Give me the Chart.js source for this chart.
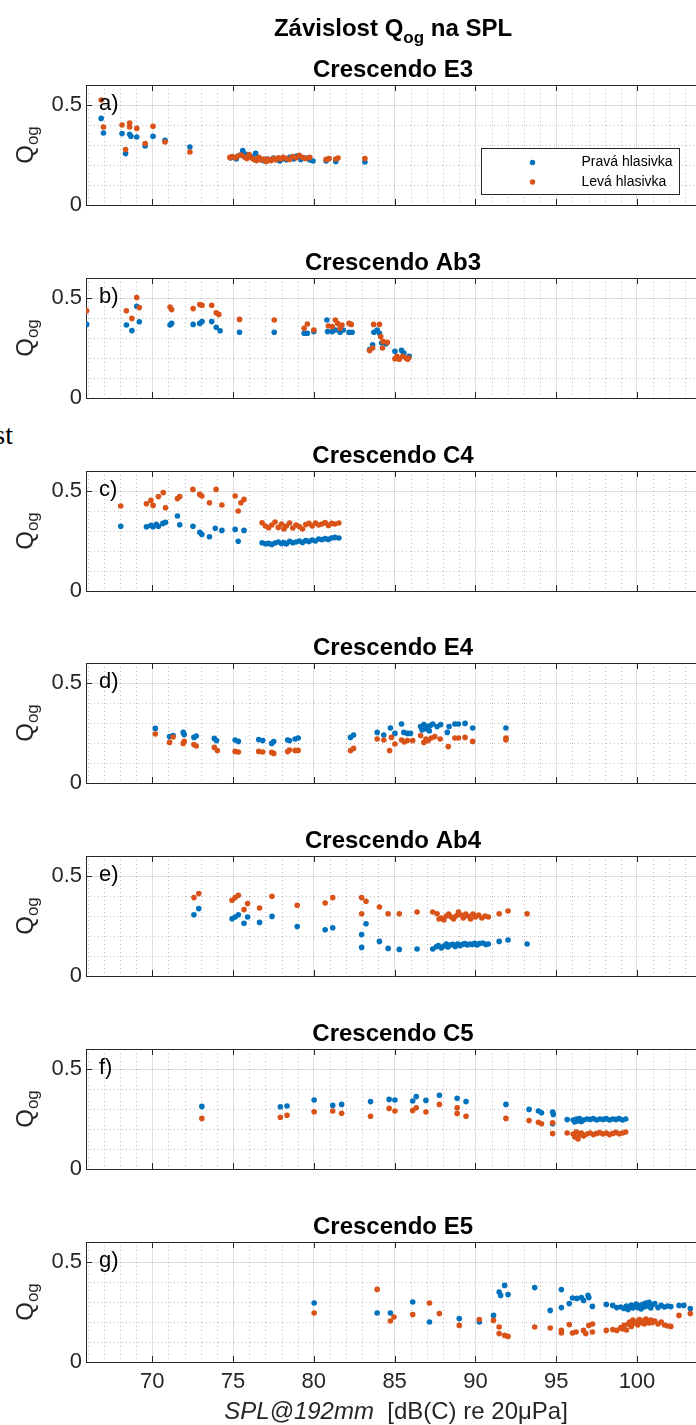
<!DOCTYPE html>
<html><head><meta charset="utf-8">
<script src="https://cdn.jsdelivr.net/npm/chart.js@4/dist/chart.umd.min.js"></script>
<style>
html,body{margin:0;padding:0;background:#fff;}
body{width:696px;height:1425px;overflow:hidden;position:relative;}
.panel{position:absolute;left:0;width:720px;}
canvas{display:block;}
#stray{position:absolute;right:683px;top:421px;font-family:"Liberation Serif","DejaVu Serif",serif;font-size:28px;color:#000;line-height:1;white-space:nowrap;}
</style>
</head><body>
<div id="stray">Závislost</div>
<script>
// ---------- text / ticks ----------
const mainTitle = ['Závislost Q', 'og', ' na SPL'];
const panelLabels = ['a)', 'b)', 'c)', 'd)', 'e)', 'f)', 'g)'];
const panelTitles = ['Crescendo E3', 'Crescendo Ab3', 'Crescendo C4', 'Crescendo E4', 'Crescendo Ab4', 'Crescendo C5', 'Crescendo E5'];
const seriesNames = ['Pravá hlasivka', 'Levá hlasivka'];
const yLabel = ['Q', 'og'];
const xLabel = ['SPL@192mm', '  [dB(C) re 20μPa]'];
const xTicks = [70, 75, 80, 85, 90, 95, 100];
const yTicks = [0, 0.5];

// ---------- a) Crescendo E3 ----------
const aPravaX = [66.84,66.98,68.13,68.35,68.60,68.68,69.04,69.56,70.05,70.79,72.33,
  74.85,75.0,75.2,75.45,75.6,75.75,76.0,76.2,76.4,76.55,76.7,76.9,77.1,77.3,77.5,77.7,77.9,78.1,78.3,78.5,78.75,78.95,79.2,79.5,79.75,79.95,80.76,81.36,83.16];
const aPravaQ = [0.433,0.36,0.357,0.257,0.354,0.344,0.34,0.295,0.344,0.324,0.29,
  0.235,0.24,0.23,0.25,0.272,0.255,0.245,0.24,0.258,0.235,0.228,0.222,0.23,0.225,0.235,0.228,0.22,0.232,0.226,0.238,0.23,0.245,0.228,0.235,0.225,0.22,0.22,0.218,0.215];
const aLevaX = [66.84,66.98,68.13,68.35,68.6,68.6,69.04,69.56,70.05,70.79,72.33,
  74.8,74.95,75.15,75.3,75.5,75.7,75.85,76.0,76.15,76.3,76.45,76.6,76.75,76.9,77.05,77.2,77.35,77.5,77.65,77.8,77.95,78.1,78.3,78.5,78.7,78.9,79.1,79.3,79.5,79.75,80.76,80.95,81.36,81.5,83.16];
const aLevaQ = [0.525,0.39,0.40,0.277,0.41,0.39,0.383,0.307,0.394,0.315,0.265,
  0.238,0.242,0.236,0.245,0.25,0.24,0.232,0.252,0.235,0.228,0.222,0.238,0.225,0.23,0.218,0.228,0.222,0.232,0.226,0.236,0.23,0.238,0.232,0.228,0.242,0.236,0.248,0.238,0.232,0.238,0.228,0.232,0.23,0.235,0.232];

// ---------- b) Crescendo Ab3 ----------
const bPravaX = [65.94,68.4,68.74,69.04,69.2,71.1,71.2,72.53,72.94,73.08,73.68,73.96,74.2,75.4,77.55,79.4,79.6,80.0,
  80.81,80.85,81.14,81.33,81.63,81.82,82.18,82.37,83.45,83.64,83.72,83.92,84.06,84.2,84.47,85.02,85.43,85.57,85.9];
const bPravaQ = [0.368,0.365,0.337,0.459,0.381,0.365,0.373,0.368,0.373,0.382,0.382,0.354,0.336,0.329,0.329,0.324,0.324,0.332,
  0.39,0.332,0.332,0.34,0.329,0.34,0.329,0.329,0.242,0.266,0.329,0.34,0.324,0.275,0.271,0.234,0.238,0.225,0.209];
const bLevaX = [65.94,68.4,68.74,69.04,69.2,71.1,71.2,72.53,72.94,73.08,73.68,73.96,74.12,75.4,77.55,79.4,79.6,80.0,
  80.9,81.14,81.33,81.47,81.63,81.74,82.18,82.32,83.45,83.64,83.7,84.06,84.14,84.25,84.28,84.55,85.02,85.15,85.29,85.5,85.7,85.8,85.87];
const bLevaQ = [0.436,0.436,0.398,0.502,0.452,0.455,0.442,0.447,0.467,0.464,0.464,0.426,0.418,0.393,0.39,0.349,0.37,0.34,
  0.36,0.357,0.39,0.373,0.349,0.365,0.373,0.368,0.237,0.25,0.368,0.368,0.307,0.25,0.283,0.278,0.196,0.209,0.194,0.209,0.2,0.194,0.2];

// ---------- c) Crescendo C4 ----------
const cPravaX = [68.05,69.64,69.92,70.05,70.25,70.38,70.66,70.82,71.56,71.7,72.52,72.94,73.07,73.54,73.9,74.31,75.13,75.32,75.68,
  76.8,77.0,77.2,77.4,77.6,77.8,78.0,78.15,78.3,78.5,78.7,78.9,79.1,79.3,79.5,79.7,79.9,80.1,80.3,80.5,80.7,80.9,81.1,81.3,81.55];
const cPravaQ = [0.324,0.321,0.328,0.321,0.333,0.324,0.338,0.344,0.375,0.331,0.324,0.294,0.283,0.271,0.314,0.303,0.308,0.249,0.303,
  0.241,0.236,0.238,0.233,0.24,0.245,0.238,0.242,0.235,0.248,0.241,0.245,0.25,0.243,0.252,0.248,0.255,0.25,0.26,0.257,0.262,0.258,0.265,0.268,0.265];
const cLevaX = [68.05,69.64,69.92,70.05,70.38,70.68,70.82,71.56,71.7,72.52,72.94,73.07,73.54,73.95,74.31,75.13,75.32,75.49,75.68,
  76.8,77.0,77.2,77.4,77.6,77.8,78.0,78.15,78.3,78.5,78.7,78.9,79.1,79.3,79.5,79.7,79.9,80.1,80.3,80.5,80.7,80.9,81.1,81.3,81.55];
const cLevaQ = [0.425,0.436,0.453,0.428,0.472,0.492,0.416,0.462,0.472,0.508,0.483,0.475,0.441,0.508,0.43,0.475,0.4,0.441,0.458,
  0.341,0.325,0.316,0.33,0.345,0.318,0.335,0.31,0.325,0.34,0.315,0.33,0.322,0.31,0.332,0.338,0.325,0.34,0.33,0.335,0.342,0.328,0.338,0.335,0.34];

// ---------- d) Crescendo E4 ----------
const dPravaX = [70.19,71.07,71.29,71.92,71.98,72.58,72.72,73.84,73.98,75.13,75.33,76.59,76.84,77.39,77.52,78.38,78.49,78.84,79.03,82.27,82.46,
  83.92,84.33,84.74,85.02,85.43,85.57,85.79,85.98,86.61,86.7,86.81,86.94,87.08,87.15,87.22,87.36,87.63,87.85,88.26,88.37,88.73,88.95,89.36,89.83,91.89];
const dPravaQ = [0.273,0.232,0.237,0.253,0.242,0.228,0.235,0.223,0.212,0.215,0.208,0.217,0.212,0.198,0.207,0.215,0.212,0.22,0.225,0.228,0.24,
  0.253,0.24,0.275,0.248,0.295,0.253,0.248,0.248,0.282,0.265,0.292,0.27,0.282,0.26,0.287,0.295,0.282,0.292,0.253,0.282,0.295,0.295,0.298,0.275,0.275];
const dLevaX = [70.19,71.07,71.29,71.92,71.98,72.58,72.72,73.84,74.03,75.13,75.33,76.59,76.84,77.39,77.52,78.38,78.49,78.84,79.03,82.27,82.46,
  83.92,84.33,84.69,84.8,85.02,85.43,85.6,85.79,86.12,86.61,86.81,86.94,87.08,87.27,87.49,87.82,88.32,88.73,88.95,89.36,89.83,91.89,91.89];
const dLevaQ = [0.245,0.203,0.23,0.198,0.208,0.192,0.185,0.178,0.162,0.158,0.155,0.158,0.155,0.153,0.148,0.157,0.165,0.163,0.163,0.162,0.173,
  0.22,0.215,0.162,0.228,0.195,0.215,0.205,0.212,0.212,0.237,0.203,0.22,0.212,0.225,0.232,0.22,0.182,0.225,0.225,0.228,0.208,0.215,0.225];

// ---------- e) Crescendo Ab4 ----------
const ePravaX = [72.58,72.88,74.94,75.13,75.33,75.68,75.9,76.64,77.41,78.97,80.7,81.17,82.96,82.96,83.23,84.06,84.6,85.29,86.39,87.36,87.58,87.71,
  87.9,88.05,88.2,88.3,88.45,88.6,88.75,88.9,89.05,89.2,89.35,89.5,89.65,89.8,89.95,90.1,90.25,90.45,90.65,90.8,91.47,92.02,93.2];
const ePravaQ = [0.306,0.337,0.286,0.295,0.306,0.264,0.295,0.268,0.298,0.247,0.231,0.241,0.207,0.143,0.261,0.173,0.138,0.133,0.135,0.135,0.146,0.152,
  0.14,0.15,0.16,0.145,0.155,0.158,0.148,0.16,0.152,0.158,0.162,0.155,0.16,0.158,0.163,0.155,0.162,0.165,0.158,0.16,0.173,0.18,0.16];
const eLevaX = [72.58,72.88,74.94,75.13,75.33,75.68,75.9,76.64,77.41,78.97,80.7,81.17,82.96,82.96,83.23,84.06,84.6,85.29,86.39,87.36,87.63,
  87.75,87.9,88.05,88.2,88.35,88.5,88.65,88.8,88.95,89.1,89.25,89.4,89.55,89.7,89.85,90.0,90.2,90.4,90.6,90.8,91.47,92.02,93.2];
const eLevaQ = [0.392,0.412,0.379,0.392,0.404,0.332,0.362,0.34,0.399,0.354,0.365,0.392,0.392,0.311,0.374,0.345,0.311,0.311,0.32,0.32,0.311,
  0.285,0.29,0.28,0.3,0.31,0.295,0.285,0.3,0.32,0.305,0.29,0.31,0.3,0.285,0.31,0.295,0.305,0.29,0.3,0.295,0.311,0.325,0.311];

// ---------- f) Crescendo C5 ----------
const fPravaX = [73.07,77.93,78.34,80.02,81.17,81.72,83.51,84.66,85.02,86.12,86.34,86.94,87.77,88.87,89.42,91.89,93.32,93.9,94.09,94.78,94.82,94.78,95.68,
  96.05,96.15,96.25,96.35,96.45,96.55,96.7,96.9,97.1,97.3,97.5,97.7,97.9,98.1,98.3,98.5,98.7,98.9,99.1,99.3];
const fPravaQ = [0.313,0.311,0.315,0.345,0.318,0.323,0.337,0.348,0.345,0.34,0.362,0.343,0.369,0.354,0.337,0.323,0.298,0.29,0.281,0.285,0.273,0.226,0.247,
  0.245,0.235,0.25,0.24,0.252,0.238,0.245,0.25,0.248,0.252,0.245,0.25,0.248,0.252,0.245,0.25,0.248,0.252,0.245,0.25];
const fLevaX = [73.07,77.93,78.34,80.02,81.17,81.72,83.51,84.66,85.02,86.12,86.34,86.94,87.77,88.87,88.87,89.42,91.89,93.32,93.9,94.09,94.78,94.78,95.68,
  96.05,96.15,96.25,96.35,96.45,96.55,96.7,96.9,97.1,97.3,97.5,97.7,97.9,98.1,98.3,98.5,98.7,98.9,99.1,99.3];
const fLevaQ = [0.253,0.259,0.269,0.286,0.29,0.279,0.264,0.303,0.29,0.293,0.306,0.285,0.323,0.306,0.278,0.264,0.253,0.242,0.234,0.226,0.231,0.177,0.18,
  0.175,0.16,0.185,0.15,0.17,0.18,0.165,0.175,0.18,0.172,0.178,0.182,0.175,0.18,0.172,0.178,0.183,0.176,0.18,0.185];

// ---------- g) Crescendo E5 ----------
const gPravaX = [80.02,83.92,84.74,86.12,87.16,89.0,90.24,91.12,91.47,91.56,91.81,92.02,93.67,94.63,95.32,95.32,95.81,96.01,96.28,96.56,96.69,96.97,97.02,97.24,
  98.1,98.5,98.75,99.0,99.2,99.35,99.45,99.55,99.65,99.75,99.85,99.95,100.05,100.15,100.25,100.35,100.45,100.55,100.65,100.75,100.85,100.95,101.1,101.3,101.5,101.7,101.9,102.1,102.6,102.9,103.3];
const gPravaQ = [0.295,0.245,0.245,0.3,0.2,0.217,0.2,0.233,0.35,0.333,0.383,0.337,0.372,0.258,0.362,0.272,0.292,0.32,0.318,0.322,0.308,0.333,0.322,0.278,
  0.288,0.283,0.272,0.275,0.268,0.28,0.262,0.275,0.285,0.27,0.278,0.29,0.272,0.282,0.265,0.288,0.275,0.295,0.28,0.298,0.27,0.285,0.292,0.272,0.283,0.275,0.28,0.277,0.283,0.283,0.267];
const gLevaX = [80.02,83.92,84.74,84.96,86.12,87.16,87.77,89.0,90.24,91.12,91.47,91.47,91.81,92.02,93.67,94.63,95.32,95.32,95.81,96.01,96.23,96.69,96.83,97.02,97.24,97.25,
  98.1,98.5,98.75,99.0,99.1,99.2,99.35,99.45,99.55,99.65,99.75,99.85,99.95,100.05,100.15,100.25,100.35,100.45,100.55,100.65,100.75,100.85,100.95,101.1,101.3,101.5,101.7,101.9,102.1,102.6,103.3];
const gLevaQ = [0.245,0.363,0.205,0.225,0.237,0.295,0.242,0.183,0.212,0.208,0.175,0.142,0.133,0.128,0.175,0.17,0.145,0.158,0.187,0.145,0.15,0.158,0.142,0.183,0.15,0.19,
  0.158,0.162,0.158,0.172,0.165,0.183,0.16,0.19,0.2,0.178,0.21,0.195,0.2,0.185,0.212,0.198,0.205,0.19,0.215,0.2,0.195,0.21,0.198,0.205,0.19,0.2,0.185,0.18,0.178,0.233,0.242];

const panelData = [
  [aPravaX, aPravaQ, aLevaX, aLevaQ],
  [bPravaX, bPravaQ, bLevaX, bLevaQ],
  [cPravaX, cPravaQ, cLevaX, cLevaQ],
  [dPravaX, dPravaQ, dLevaX, dLevaQ],
  [ePravaX, ePravaQ, eLevaX, eLevaQ],
  [fPravaX, fPravaQ, fLevaX, fLevaQ],
  [gPravaX, gPravaQ, gLevaX, gLevaQ]
];

// ---------- styling ----------
const BLUE = '#0072BD', ORANGE = '#D95319', AXIS = '#262626';
const FONT = '"Liberation Sans", Arial, Helvetica, sans-serif';
Chart.defaults.font.family = FONT;
Chart.defaults.color = AXIS;

const toPts = (xs, ys) => xs.map((x, i) => ({ x: x, y: ys[i] }));

const matlabPlugin = {
  id: 'matlab',
  beforeDatasetsDraw(chart, args, o) {
    const { ctx, chartArea: ca, scales: { x, y } } = chart;
    ctx.save();
    ctx.beginPath(); ctx.rect(ca.left, ca.top, ca.right - ca.left, ca.bottom - ca.top); ctx.clip();
    ctx.strokeStyle = 'rgba(38,38,38,0.3)';
    ctx.lineWidth = 1;
    ctx.setLineDash([1, 3]);
    // minor grid: every 1 dB and every 0.1
    for (let v = Math.ceil(x.min); v <= x.max; v += 1) {
      if (xTicks.includes(v)) continue;
      const px = Math.round(x.getPixelForValue(v)) + 0.5;
      ctx.beginPath(); ctx.moveTo(px, ca.top); ctx.lineTo(px, ca.bottom); ctx.stroke();
    }
    for (let k = 1; k * 0.1 < y.max - 1e-9; k++) {
      const v = k / 10;
      if (yTicks.some(t => Math.abs(t - v) < 1e-9)) continue;
      const py = Math.round(y.getPixelForValue(v)) + 0.5;
      ctx.beginPath(); ctx.moveTo(ca.left, py); ctx.lineTo(ca.right, py); ctx.stroke();
    }
    ctx.restore();
  },
  afterDraw(chart, args, o) {
    const { ctx, chartArea: ca, scales: { x, y } } = chart;
    ctx.save();
    // top border
    ctx.strokeStyle = AXIS; ctx.lineWidth = 1;
    const topY = Math.round(ca.top) + 0.5;
    ctx.beginPath(); ctx.moveTo(ca.left, topY); ctx.lineTo(ca.right, topY); ctx.stroke();
    // inward tick marks
    const TL = 6;
    xTicks.forEach(v => {
      const px = Math.round(x.getPixelForValue(v)) + 0.5;
      ctx.beginPath();
      ctx.moveTo(px, ca.bottom); ctx.lineTo(px, ca.bottom - TL);
      ctx.moveTo(px, ca.top); ctx.lineTo(px, ca.top + TL);
      ctx.stroke();
    });
    yTicks.forEach(v => {
      const py = Math.round(y.getPixelForValue(v)) + 0.5;
      ctx.beginPath(); ctx.moveTo(ca.left, py); ctx.lineTo(ca.left + TL, py); ctx.stroke();
    });
    // panel letter
    ctx.fillStyle = '#000';
    ctx.font = '22px ' + FONT;
    ctx.textAlign = 'left'; ctx.textBaseline = 'middle';
    ctx.fillText(o.letter, ca.left + 13, y.getPixelForValue(0.5) - 1);
    // panel title
    ctx.font = 'bold 24px ' + FONT;
    ctx.textAlign = 'center'; ctx.textBaseline = 'alphabetic';
    const cx = (ca.left + ca.right) / 2;
    ctx.fillText(o.title, cx, ca.top - 8);
    // y label Q_og (rotated)
    const cy = (ca.top + ca.bottom) / 2;
    ctx.save();
    ctx.translate(33, cy);
    ctx.rotate(-Math.PI / 2);
    ctx.fillStyle = AXIS;
    ctx.textAlign = 'left';
    ctx.font = '24px ' + FONT;
    const wQ = ctx.measureText(yLabel[0]).width;
    ctx.font = '17px ' + FONT;
    const wSub = ctx.measureText(yLabel[1]).width;
    const start = -(wQ + wSub) / 2;
    ctx.font = '24px ' + FONT;
    ctx.fillText(yLabel[0], start, 0);
    ctx.font = '17px ' + FONT;
    ctx.fillText(yLabel[1], start + wQ, 5);
    ctx.restore();
    // main title
    if (o.main) {
      ctx.fillStyle = '#000';
      ctx.textAlign = 'left';
      ctx.font = 'bold 24px ' + FONT;
      const w1 = ctx.measureText(mainTitle[0]).width;
      const w3 = ctx.measureText(mainTitle[2]).width;
      ctx.font = 'bold 17px ' + FONT;
      const w2 = ctx.measureText(mainTitle[1]).width;
      let sx = cx - (w1 + w2 + w3) / 2;
      ctx.font = 'bold 24px ' + FONT;
      ctx.fillText(mainTitle[0], sx, 36);
      ctx.font = 'bold 17px ' + FONT;
      ctx.fillText(mainTitle[1], sx + w1, 43);
      ctx.font = 'bold 24px ' + FONT;
      ctx.fillText(mainTitle[2], sx + w1 + w2, 36);
    }
    // legend
    if (o.legend) {
      const bx = Math.round(ca.right - 219.5) + 0.5, by = Math.round(ca.top + 63) + 0.5, bw = 198, bh = 46;
      ctx.fillStyle = '#fff';
      ctx.fillRect(bx, by, bw, bh);
      ctx.strokeStyle = AXIS; ctx.lineWidth = 1;
      ctx.strokeRect(bx, by, bw, bh);
      ctx.font = '14px ' + FONT;
      ctx.textAlign = 'left'; ctx.textBaseline = 'middle';
      chart.data.datasets.forEach((ds, i) => {
        const ry = by + 14 + i * 19.5;
        ctx.fillStyle = ds.backgroundColor;
        ctx.beginPath(); ctx.arc(bx + 51, ry, 2.7, 0, Math.PI * 2); ctx.fill();
        ctx.fillStyle = '#000';
        ctx.fillText(ds.label, bx + 100, ry);
      });
    }
    // x label
    if (o.xlabel) {
      ctx.fillStyle = AXIS;
      ctx.textAlign = 'left'; ctx.textBaseline = 'alphabetic';
      ctx.font = 'italic 24px ' + FONT;
      const w1 = ctx.measureText(xLabel[0]).width;
      ctx.font = '24px ' + FONT;
      const w2 = ctx.measureText(xLabel[1]).width;
      const sx = cx + 3 - (w1 + w2) / 2;
      const base = ca.bottom + 57;
      ctx.font = 'italic 24px ' + FONT;
      ctx.fillText(xLabel[0], sx, base);
      ctx.font = '24px ' + FONT;
      ctx.fillText(xLabel[1], sx + w1, base);
    }
    ctx.restore();
  }
};

panelData.forEach((d, i) => {
  const axTop = Math.round(85 + i * 192.8);
  const padTop = i === 0 ? 85 : 50;
  const last = i === panelData.length - 1;
  const xh = last ? 75 : 30;
  const div = document.createElement('div');
  div.className = 'panel';
  div.style.top = (axTop - padTop) + 'px';
  div.style.height = (padTop + 120 + xh) + 'px';
  const cv = document.createElement('canvas');
  div.appendChild(cv);
  document.body.appendChild(div);

  new Chart(cv, {
    type: 'scatter',
    data: {
      datasets: [
        { label: seriesNames[0], data: toPts(d[0], d[1]), backgroundColor: BLUE, borderWidth: 0, pointRadius: 2.8, order: 1 },
        { label: seriesNames[1], data: toPts(d[2], d[3]), backgroundColor: ORANGE, borderWidth: 0, pointRadius: 2.8, order: 0 }
      ]
    },
    options: {
      responsive: true,
      maintainAspectRatio: false,
      animation: false,
      events: [],
      layout: { padding: { top: padTop, left: 0, right: 20, bottom: 0 } },
      plugins: {
        legend: { display: false },
        tooltip: { enabled: false },
        title: { display: false },
        matlab: { letter: panelLabels[i], title: panelTitles[i], main: i === 0, legend: i === 0, xlabel: last }
      },
      scales: {
        x: {
          type: 'linear', min: 65.9, max: 103.9,
          afterBuildTicks: s => { s.ticks = xTicks.map(v => ({ value: v })); },
          afterFit: s => { s.height = xh; },
          grid: { color: 'rgba(38,38,38,0.15)', lineWidth: 1, drawTicks: false },
          border: { display: true, color: AXIS, width: 1 },
          ticks: { display: last, font: { size: 22 }, color: AXIS, padding: 7, maxRotation: 0, autoSkip: false }
        },
        y: {
          type: 'linear', min: 0, max: 0.6,
          afterBuildTicks: s => { s.ticks = yTicks.map(v => ({ value: v })); },
          afterFit: s => { s.width = 86; },
          grid: { color: 'rgba(38,38,38,0.15)', lineWidth: 1, drawTicks: false },
          border: { display: true, color: AXIS, width: 1 },
          ticks: { font: { size: 22 }, color: AXIS, padding: 4, callback: v => String(v) }
        }
      }
    },
    plugins: [matlabPlugin]
  });
});
</script>
</body></html>
